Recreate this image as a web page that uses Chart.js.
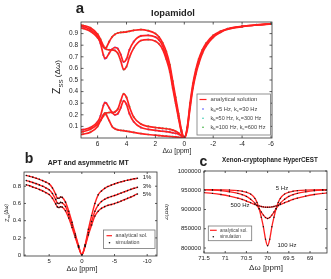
<!DOCTYPE html>
<html>
<head>
<meta charset="utf-8">
<script src="https://cdn.jsdelivr.net/npm/chart.js@4.4.1/dist/chart.umd.min.js"></script>
<style>
  body { margin: 0; background: #fff; width: 331px; height: 279px; overflow: hidden; position: relative; }
  canvas { position: absolute; }
</style>
</head>
<body>
<canvas id="cb" width="165" height="129" style="left:0;top:150px"></canvas>
<canvas id="cc" width="166" height="129" style="left:165px;top:150px"></canvas>
<canvas id="ca" width="331" height="160" style="left:0;top:0"></canvas>
<script>
// ---- panel a: Iopamidol ----
const xA = [7.2, 7, 6.5, 6, 5.8, 5.6, 5.5, 5.4, 5.2, 5, 4.8, 4.6, 4.4, 4.2, 4, 3.8, 3.5, 3, 2.5, 2,
  1.75, 1.5, 1.25, 1, 0.8, 0.6, 0.4, 0.2, 0, -0.2, -0.4, -0.6, -0.8, -1, -1.25, -1.5, -2, -2.5, -3, -4, -5, -6];
const zA1 = [0.975, 0.97, 0.95, 0.895, 0.85, 0.795, 0.775, 0.78, 0.83, 0.87, 0.893, 0.905, 0.91, 0.912, 0.915, 0.92, 0.928, 0.935, 0.925, 0.9,
  0.87, 0.82, 0.745, 0.63, 0.49, 0.35, 0.21, 0.07, 0, 0.09, 0.3, 0.47, 0.59, 0.68, 0.76, 0.815, 0.885, 0.92, 0.942, 0.963, 0.976, 0.985];
const zA2 = [0.965, 0.96, 0.935, 0.875, 0.815, 0.715, 0.685, 0.69, 0.73, 0.765, 0.78, 0.77, 0.72, 0.655, 0.68, 0.76, 0.83, 0.88, 0.885, 0.87,
  0.845, 0.795, 0.71, 0.6, 0.46, 0.32, 0.19, 0.06, 0, 0.08, 0.28, 0.45, 0.57, 0.66, 0.745, 0.8, 0.875, 0.915, 0.94, 0.962, 0.975, 0.984];
const zA3 = [0.95, 0.945, 0.92, 0.865, 0.83, 0.785, 0.772, 0.765, 0.76, 0.76, 0.755, 0.73, 0.665, 0.59, 0.615, 0.695, 0.775, 0.84, 0.848, 0.835,
  0.81, 0.765, 0.68, 0.57, 0.43, 0.3, 0.17, 0.05, 0, 0.07, 0.26, 0.43, 0.55, 0.64, 0.73, 0.79, 0.867, 0.91, 0.937, 0.96, 0.974, 0.983];
// asymmetry curves, positive offsets only
const xLow = xA.slice(0, 29);
const asym1 = [0.07, 0.072, 0.09, 0.14, 0.19, 0.28, 0.305, 0.3, 0.26, 0.22, 0.2, 0.21, 0.26, 0.32, 0.29, 0.21, 0.14, 0.09, 0.075, 0.065,
  0.062, 0.058, 0.055, 0.05, 0.045, 0.04, 0.033, 0.018, 0];
const asym2 = [0.05, 0.055, 0.075, 0.12, 0.15, 0.19, 0.21, 0.215, 0.22, 0.22, 0.225, 0.25, 0.32, 0.38, 0.35, 0.27, 0.18, 0.12, 0.1, 0.09,
  0.087, 0.083, 0.08, 0.075, 0.068, 0.058, 0.043, 0.022, 0];
const asym3 = [0.03, 0.034, 0.05, 0.1, 0.15, 0.2, 0.215, 0.2, 0.15, 0.1, 0.08, 0.07, 0.066, 0.063, 0.06, 0.055, 0.048, 0.038, 0.03, 0.024,
  0.021, 0.018, 0.016, 0.013, 0.011, 0.009, 0.006, 0.003, 0];
const xTicksA = [6, 4, 2, 0, -2, -4, -6];
const yTicksA = [0.1, 0.2, 0.3, 0.4, 0.5, 0.6, 0.7, 0.8, 0.9];

// ---- panel b: APT and asymmetric MT ----
const xB = [8.5, 8, 7.5, 7, 6.5, 6, 5.5, 5, 4.5, 4, 3.75, 3.5, 3.25, 3, 2.5, 2, 1.5, 1, 0.5, 0,
  -0.5, -1, -1.5, -2, -2.5, -3, -3.5, -4, -4.5, -5, -5.5, -6, -6.5, -7, -7.5, -8, -8.5];
const zB1 = [0.925, 0.915, 0.905, 0.893, 0.88, 0.865, 0.847, 0.827, 0.78, 0.705, 0.66, 0.66, 0.675, 0.67, 0.615, 0.51, 0.38, 0.245, 0.11, 0.005,
  0.12, 0.3, 0.46, 0.6, 0.7, 0.745, 0.775, 0.797, 0.813, 0.827, 0.84, 0.851, 0.861, 0.87, 0.878, 0.886, 0.892];
const zB3 = [0.866, 0.855, 0.843, 0.83, 0.815, 0.8, 0.78, 0.758, 0.715, 0.645, 0.605, 0.6, 0.612, 0.607, 0.565, 0.47, 0.35, 0.225, 0.1, 0.005,
  0.11, 0.26, 0.39, 0.51, 0.58, 0.622, 0.648, 0.667, 0.68, 0.692, 0.706, 0.72, 0.735, 0.749, 0.763, 0.776, 0.788];
const zB5 = [0.816, 0.805, 0.79, 0.777, 0.762, 0.745, 0.725, 0.703, 0.66, 0.595, 0.56, 0.553, 0.562, 0.557, 0.515, 0.43, 0.32, 0.205, 0.09, 0.005,
  0.1, 0.235, 0.35, 0.455, 0.51, 0.543, 0.563, 0.578, 0.588, 0.598, 0.612, 0.627, 0.643, 0.659, 0.675, 0.692, 0.71];
const xTicksB = [5, 0, -5, -10];
const yTicksB = [0, 0.2, 0.4, 0.6, 0.8];

// ---- panel c: Xenon-cryptophane HyperCEST ----
const xC = [71.5, 71.3, 71.1, 70.9, 70.7, 70.6, 70.5, 70.4, 70.3, 70.25, 70.2, 70.15, 70.1, 70.05, 70,
  69.95, 69.9, 69.85, 69.8, 69.75, 69.7, 69.6, 69.5, 69.4, 69.3, 69.1, 68.9, 68.7, 68.6];
const zC5 = [951000, 950200, 948800, 946000, 942000, 938500, 934000, 926500, 916500, 910000, 902000, 893500, 885500, 879000, 876500,
  879000, 885500, 893500, 902000, 910000, 916500, 926500, 934000, 938500, 942000, 946000, 948800, 950200, 950600];
const zC100 = [951500, 951300, 951000, 950500, 949000, 947500, 945000, 940000, 929000, 918000, 902000, 880000, 855000, 823000, 806000,
  823000, 855000, 880000, 902000, 918000, 929000, 940000, 945000, 947500, 949000, 950500, 951000, 951300, 951400];
const zC500 = [944000, 942000, 939000, 935000, 929500, 926000, 922000, 917500, 913000, 911000, 909200, 907800, 906800, 906100, 905900,
  906100, 906800, 907800, 909200, 911000, 913000, 917500, 922000, 926000, 929500, 935000, 939000, 942000, 943000];
const xTicksC = [71.5, 71, 70.5, 70, 69.5, 69];
const yTicksC = [800000, 850000, 900000, 950000, 1000000];

const RED = 'rgb(255,32,32)';
const FAM = '"Liberation Sans", Arial, sans-serif';
Chart.defaults.font.family = FAM;
Chart.defaults.color = '#222';

const pts = (xs, ys) => xs.map((x, i) => ({ x, y: ys[i] }));

function rich(ctx, t, ox, oy) {
  const parts = t.parts || [{ s: t.s }];
  const base = t.size || 7;
  const fontOf = (p, k) => `${t.bold ? 'bold ' : ''}${(p.r || 1) * base * k}px ${FAM}`;
  const widthAt = k => parts.reduce((w, p) => { ctx.font = fontOf(p, k); return w + ctx.measureText(p.s).width; }, 0);
  const k = t.w ? t.w / widthAt(1) : 1;
  const total = widthAt(k);
  ctx.save();
  ctx.translate(t.x - ox, t.y - oy);
  if (t.rot) ctx.rotate(t.rot);
  ctx.fillStyle = t.color || '#222';
  ctx.textBaseline = 'middle';
  let x = t.align === 'left' ? 0 : -total / 2;
  parts.forEach(p => {
    ctx.font = fontOf(p, k);
    ctx.fillText(p.s, x, (p.dy || 0) * base * k);
    x += ctx.measureText(p.s).width;
  });
  ctx.restore();
}

// box, inward ticks, legend and free text
const deco = {
  id: 'deco',
  afterDraw(chart, args, o) {
    const ctx = chart.ctx, a = chart.chartArea;
    const sx = chart.scales.x, sy = chart.scales.y;
    ctx.save();
    ctx.strokeStyle = '#333';
    ctx.lineWidth = 0.8;
    ctx.beginPath();
    sx.ticks.forEach(t => {
      const p = sx.getPixelForValue(t.value);
      ctx.moveTo(p, a.bottom); ctx.lineTo(p, a.bottom - o.tick);
      ctx.moveTo(p, a.top); ctx.lineTo(p, a.top + o.tick);
    });
    sy.ticks.forEach(t => {
      const p = sy.getPixelForValue(t.value);
      ctx.moveTo(a.left, p); ctx.lineTo(a.left + o.tick, p);
      ctx.moveTo(a.right, p); ctx.lineTo(a.right - o.tick, p);
    });
    ctx.stroke();
    ctx.strokeRect(a.left, a.top, a.right - a.left, a.bottom - a.top);

    const lg = o.legend;
    if (lg) {
      const [x0, y0, x1, y1] = lg.box;
      ctx.fillStyle = '#fff';
      ctx.fillRect(x0 - o.ox, y0 - o.oy, x1 - x0, y1 - y0);
      ctx.strokeStyle = '#777';
      ctx.lineWidth = 0.8;
      ctx.strokeRect(x0 - o.ox, y0 - o.oy, x1 - x0, y1 - y0);
      lg.items.forEach(it => {
        if (it.line) {
          ctx.strokeStyle = RED; ctx.lineWidth = 1.2;
          ctx.beginPath();
          ctx.moveTo(it.line[0] - o.ox, it.y - o.oy);
          ctx.lineTo(it.line[1] - o.ox, it.y - o.oy);
          ctx.stroke();
        } else {
          ctx.fillStyle = it.dot[1];
          ctx.beginPath();
          ctx.arc(it.dot[0] - o.ox, it.y - o.oy, 0.8, 0, Math.PI * 2);
          ctx.fill();
        }
        rich(ctx, Object.assign({ y: it.y, align: 'left', color: '#444' }, it.text), o.ox, o.oy);
      });
    }
    (o.texts || []).forEach(t => rich(ctx, t, o.ox, o.oy));
    ctx.restore();
  }
};

function axes(xr, yr, xt, yt, yw, xh, fs, fmt) {
  const tick = (vals) => function (s) { s.ticks = vals.map(v => ({ value: v })); };
  return {
    x: {
      type: 'linear', reverse: true, min: xr[1], max: xr[0],
      afterBuildTicks: tick(xt), afterFit: s => { s.height = xh; },
      grid: { display: false, drawTicks: false }, border: { display: false },
      ticks: { autoSkip: false, maxRotation: 0, padding: 2, font: { size: fs }, callback: v => String(v) }
    },
    y: {
      type: 'linear', min: yr[0], max: yr[1],
      afterBuildTicks: tick(yt), afterFit: s => { s.width = yw; },
      grid: { display: false, drawTicks: false }, border: { display: false },
      ticks: { padding: 3, font: { size: fs }, callback: fmt || (v => String(v)) }
    }
  };
}

// simulation dots sit under the analytical lines (higher order = drawn first)
const lineDs = (data, w) => ({
  data, borderColor: RED, borderWidth: w, pointRadius: 0, fill: false,
  cubicInterpolationMode: 'monotone', order: 1
});
const dotDs = (data, color, r) => ({
  data, showLine: false, pointRadius: r, pointBorderWidth: 0,
  pointBackgroundColor: color, order: 2
});
const sub = (s) => ({ s, r: 0.7, dy: 0.35 });

// panel a
const curvesA = [
  [pts(xA, zA1), 'rgba(40,170,40,0.8)'], [pts(xA, zA2), 'rgba(60,60,255,0.8)'], [pts(xA, zA3), 'rgba(40,200,170,0.8)'],
  [pts(xLow, asym1), 'rgba(60,60,255,0.8)'], [pts(xLow, asym2), 'rgba(40,170,40,0.8)'], [pts(xLow, asym3), 'rgba(40,200,170,0.8)']
];
new Chart(document.getElementById('ca'), {
  type: 'line',
  data: { datasets: curvesA.map(c => lineDs(c[0], 1.7)).concat(curvesA.map(c => dotDs(c[0], c[1], 1.1))) },
  options: {
    responsive: false, animation: false, events: [],
    layout: { padding: { left: 0, right: 59, top: 22, bottom: 0 } },
    scales: axes([7.15, -6.07], [0, 1], xTicksA, yTicksA, 81, 22, 6.5),
    plugins: {
      legend: { display: false }, tooltip: { enabled: false },
      deco: {
        ox: 0, oy: 0, tick: 2.5,
        legend: {
          box: [197, 94, 270.5, 135],
          items: [
            { line: [199.5, 206.5], y: 99.5, text: { x: 210.5, s: 'analytical solution', w: 47 } },
            { dot: [203, 'rgb(60,60,255)'], y: 109, text: { x: 210.5, w: 47, parts: [{ s: 'k' }, sub('b'), { s: '=5 Hz, k' }, sub('c'), { s: '=30 Hz' }] } },
            { dot: [203, 'rgb(40,200,170)'], y: 118.3, text: { x: 210.5, w: 51, parts: [{ s: 'k' }, sub('b'), { s: '=50 Hz, k' }, sub('c'), { s: '=300 Hz' }] } },
            { dot: [203, 'rgb(40,170,40)'], y: 127.3, text: { x: 210.5, w: 55, parts: [{ s: 'k' }, sub('b'), { s: '=100 Hz, k' }, sub('c'), { s: '=600 Hz' }] } }
          ]
        },
        texts: [
          { s: 'a', x: 80, y: 8.5, size: 15, bold: true },
          { s: 'Iopamidol', x: 173, y: 13.3, w: 44, bold: true },
          { x: 57.5, y: 77, rot: -Math.PI / 2, w: 34, parts: [{ s: 'Z', r: 1.3 }, { s: 'SS', r: 0.75, dy: 0.45 }, { s: ' (Δω)' }] },
          { s: 'Δω [ppm]', x: 177, y: 151.5, w: 29 }
        ]
      }
    }
  },
  plugins: [deco]
});

// panel b
const curvesB = [pts(xB, zB1), pts(xB, zB3), pts(xB, zB5)];
new Chart(document.getElementById('cb'), {
  type: 'line',
  data: { datasets: curvesB.map(c => lineDs(c, 1.4)).concat(curvesB.map(c => ({ ...dotDs(c, '#111', 0.8), order: 0 }))) },
  options: {
    responsive: false, animation: false, events: [],
    layout: { padding: { left: 0, right: 8, top: 22, bottom: 0 } },
    scales: axes([8.85, -11.5], [-0.01, 0.965], xTicksB, yTicksB, 24, 23, 6),
    plugins: {
      legend: { display: false }, tooltip: { enabled: false },
      deco: {
        ox: 0, oy: 150, tick: 2,
        legend: {
          box: [103.5, 230, 155, 248.5],
          items: [
            { line: [106.5, 112], y: 235.7, text: { x: 115.5, s: 'analytical sol.', w: 32 } },
            { dot: [109.5, '#111'], y: 242.7, text: { x: 115.5, s: 'simulation', w: 24 } }
          ]
        },
        texts: [
          { s: 'b', x: 29, y: 158.8, size: 14, bold: true },
          { s: 'APT and asymmetric MT', x: 88.3, y: 163.3, w: 81, bold: true },
          { x: 7, y: 213, rot: -Math.PI / 2, w: 18, parts: [{ s: 'Z', r: 1.2 }, { s: 'ss', r: 0.75, dy: 0.4 }, { s: '(Δω)' }] },
          { s: 'Δω [ppm]', x: 82, y: 269, w: 31 },
          { s: '1%', x: 147, y: 177.3, size: 6 },
          { s: '3%', x: 147, y: 186, size: 6 },
          { s: '5%', x: 147, y: 194.3, size: 6 }
        ]
      }
    }
  },
  plugins: [deco]
});

// panel c
const curvesC = [pts(xC, zC5), pts(xC, zC100), pts(xC, zC500)];
new Chart(document.getElementById('cc'), {
  type: 'line',
  data: { datasets: curvesC.map(c => lineDs(c, 1.3)).concat(curvesC.map(c => ({ ...dotDs(c, '#111', 0.7), order: 0 }))) },
  options: {
    responsive: false, animation: false, events: [],
    layout: { padding: { left: 0, right: 1, top: 21, bottom: 0 } },
    scales: axes([71.5, 68.6], [787000, 1000000], xTicksC, yTicksC, 39, 26, 6),
    plugins: {
      legend: { display: false }, tooltip: { enabled: false },
      deco: {
        ox: 165, oy: 150, tick: 2,
        legend: {
          box: [208.3, 226, 251.7, 240.7],
          items: [
            { line: [210, 216.7], y: 230.3, text: { x: 220, s: 'analytical sol.', w: 27.5 } },
            { dot: [213.3, '#111'], y: 236.7, text: { x: 220, s: 'simulation', w: 21 } }
          ]
        },
        texts: [
          { s: 'c', x: 203.5, y: 162, size: 14, bold: true },
          { s: 'Xenon-cryptophane HyperCEST', x: 270, y: 160.7, w: 96, bold: true },
          { s: 'Z(Δω)', x: 166.5, y: 212, rot: -Math.PI / 2, w: 16 },
          { s: 'Δω [ppm]', x: 266, y: 267.3, w: 34 },
          { s: '5 Hz', x: 282, y: 188.5, size: 6 },
          { s: '500 Hz', x: 240, y: 205, size: 6 },
          { s: '100 Hz', x: 287, y: 245, size: 6 }
        ]
      }
    }
  },
  plugins: [deco]
});
</script>
</body>
</html>
